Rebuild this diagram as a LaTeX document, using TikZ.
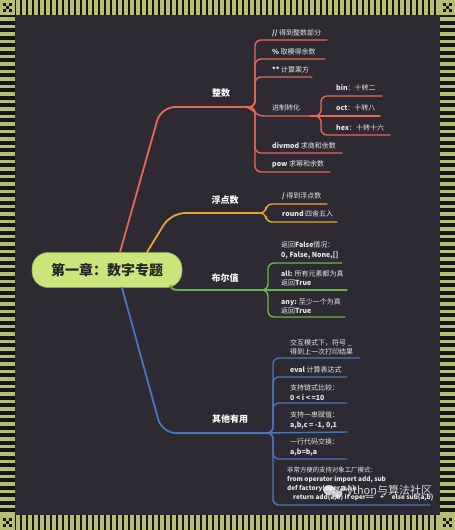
\documentclass[tikz,border=0pt]{standalone}
\usepackage{fontspec}
\setmainfont{Noto Sans CJK SC}
\definecolor{bg}{HTML}{2E2A34}
\definecolor{fr}{HTML}{B5BE72}
\definecolor{frk}{HTML}{151515}
\definecolor{cred}{HTML}{E8675A}
\definecolor{corange}{HTML}{E6A62C}
\definecolor{cgreen}{HTML}{6AB44A}
\definecolor{cblue}{HTML}{4A74BC}
\definecolor{cnode}{HTML}{C9E57C}
\definecolor{ctxt}{HTML}{E8E8E8}
\tikzset{
  trunk/.style={line width=1.8pt, line cap=round, rounded corners=14pt},
  twig/.style={line width=1.4pt, line cap=round, rounded corners=6pt},
  leaf/.style={anchor=west, inner sep=0pt, text=ctxt, font=\fontsize{7}{9.5}\selectfont, align=left},
  blabel/.style={inner sep=0pt, text=white, font=\fontsize{9}{11}\selectfont\bfseries},
  rootbox/.style={draw=cnode!70!black, line width=0.6pt, fill=cnode, rounded corners=16pt, minimum width=150pt, minimum height=35pt, inner sep=0pt, text=black!85, font=\fontsize{14}{16}\selectfont\bfseries}
}
\begin{document}
\begin{tikzpicture}[x=1pt,y=-1pt]
\useasboundingbox (0,0) rectangle (455,530);
% frame
\fill[frk] (0,0) rectangle (455,530);
\foreach \x in {15,21,...,435} {
  \fill[fr] (\x+1,0) rectangle (\x+4.8,15);
  \fill[fr] (\x+1,515) rectangle (\x+4.8,530);
}
\foreach \y in {15,22.5,...,510} {
  \fill[fr] (0,\y+2) rectangle (15,\y+5.5);
  \fill[fr] (440,\y+2) rectangle (455,\y+5.5);
}
\foreach \cx/\cy in {0/0,440/0,0/515,440/515} {
  \fill[fr] (\cx,\cy) rectangle (\cx+15,\cy+15);
  \fill[frk] (\cx+3,\cy+3) rectangle (\cx+6,\cy+6);
  \fill[frk] (\cx+9,\cy+3) rectangle (\cx+12,\cy+6);
  \fill[frk] (\cx+3,\cy+9) rectangle (\cx+6,\cy+12);
  \fill[frk] (\cx+9,\cy+9) rectangle (\cx+12,\cy+12);
  \fill[frk] (\cx+6,\cy+6) rectangle (\cx+9,\cy+9);
}
\fill[bg] (15,15) rectangle (440,515);

% fork coordinates
\coordinate (F1) at (243,107);
\coordinate (F1b) at (310,116);
\coordinate (F2) at (258,213);
\coordinate (F3) at (258,290);
\coordinate (F4) at (263,433);

% center node
\node[rootbox] (root) at (107,270) {第一章：数字专题};

% trunks
\draw[trunk, cred] ([xshift=13pt]root.north) -- (161,107) -- (F1);
\draw[trunk, corange] ([xshift=40pt]root.north) -- (171,213) -- (F2);
\draw[cgreen, line width=1.8pt] ([xshift=-12pt,yshift=3pt]root.south east) .. controls (172,290) .. (186,290) -- (F3);
\draw[trunk, cblue] ([xshift=15pt]root.south) -- (162,433) -- (F4);

% branch labels
\node[blabel] (zs) at (221,93) {整数};
\node[blabel] (fd) at (225,200) {浮点数};
\node[blabel] (be) at (225,278) {布尔值};
\node[blabel] (qt) at (230,419) {其他有用};

% ---- 整数 leaves
\node[leaf] (a1) at (272,33) {\textbf{//} 得到整数部分};
\node[leaf] (a2) at (272,52) {\textbf{\%} 取模得余数};
\node[leaf] (a3) at (272,70) {\textbf{**} 计算乘方};
\node[leaf] (a4) at (272,108) {进制转化};
\node[leaf] (a5) at (272,146) {\textbf{divmod} 求商和余数};
\node[leaf] (a6) at (272,164) {\textbf{pow} 求幂和余数};
\coordinate (e1) at (327,40);
\coordinate (e2) at (325,59);
\coordinate (e3) at (312,77);
\coordinate (e5) at (342,153);
\coordinate (e6) at (330,172);
\draw[twig, cred] (F1) -- (255,107) -- (255,40) -- (e1);
\draw[twig, cred] (F1) -- (255,107) -- (255,59) -- (e2);
\draw[twig, cred] (F1) -- (255,107) -- (255,77) -- (e3);
\draw[cred, line width=1.4pt, line cap=round] (F1) .. controls (254,107) and (254,116) .. (264,116) -- (F1b);
\draw[twig, cred] (F1) -- (255,107) -- (255,153) -- (e5);
\draw[twig, cred] (F1) -- (255,107) -- (255,172) -- (e6);

\node[leaf] (b1) at (336,88) {\textbf{bin}：十转二};
\node[leaf] (b2) at (336,108) {\textbf{oct}：十转八};
\node[leaf] (b3) at (336,128) {\textbf{hex}：十转十六};
\coordinate (g1) at (382,96);
\coordinate (g2) at (380,116);
\coordinate (g3) at (390,135);
\draw[twig, cred] (F1b) -- (321,116) -- (321,96) -- (g1);
\draw[twig, cred] (F1b) -- (g2);
\draw[twig, cred] (F1b) -- (321,116) -- (321,135) -- (g3);

% ---- 浮点数 leaves
\node[leaf] (c1) at (282,196) {\textbf{/} 得到浮点数};
\node[leaf] (c2) at (282,214) {\textbf{round} 四舍五入};
\coordinate (h1) at (327,204);
\coordinate (h2) at (337,222);
\draw[twig, corange] (F2) -- (266,213) -- (266,204) -- (h1);
\draw[twig, corange] (F2) -- (266,213) -- (266,222) -- (h2);

% ---- 布尔值 leaves
\node[leaf] (d1) at (281,250.5) {返回\textbf{False}情况：\\\textbf{0, False, None,[]}};
\node[leaf] (d2) at (281,278.5) {\textbf{all:} 所有元素都为真\\返回\textbf{True}};
\node[leaf] (d3) at (281,306.5) {\textbf{any:} 至少一个为真\\返回\textbf{True}};
\coordinate (k1) at (342,263);
\coordinate (k2) at (347,290);
\coordinate (k3) at (345,317);
\draw[twig, cgreen] (F3) -- (268,290) -- (268,263) -- (k1);
\draw[twig, cgreen] (F3) -- (k2);
\draw[twig, cgreen] (F3) -- (268,290) -- (268,317) -- (k3);

% ---- 其他有用 leaves
\node[leaf] (m1) at (290,347.5) {交互模式下，符号 \_\\得到上一次打印结果};
\node[leaf] (m2) at (290,370) {\textbf{eval} 计算表达式};
\node[leaf] (m3) at (290,392.5) {支持链式比较：\\\textbf{0 < i < =10}};
\node[leaf] (m4) at (290,420.5) {支持一串赋值：\\\textbf{a,b,c = -1, 0,1}};
\node[leaf] (m5) at (290,447.5) {一行代码交换：\\\textbf{a,b=b,a}};
\node[leaf, font=\fontsize{6.4}{9.3}\selectfont] (m6) at (287,484) {非常方便的支持对象工厂模式：\\\textbf{from operator import add, sub}\\\textbf{def factory(oper,a,b):}\\\hspace{6pt}\textbf{return add(a,b) if oper=='+' else sub(a,b)}};
\coordinate (n1) at (360,358);
\coordinate (n2) at (347,377);
\coordinate (n3) at (347,403);
\coordinate (n4) at (347,432);
\coordinate (n5) at (347,459);
\coordinate (n6) at (430,505);
\draw[twig, cblue] (F4) -- (273,433) -- (273,358) -- (n1);
\draw[twig, cblue] (F4) -- (273,433) -- (273,377) -- (n2);
\draw[twig, cblue] (F4) -- (273,433) -- (273,403) -- (n3);
\draw[twig, cblue] (F4) -- (n4);
\draw[twig, cblue] (F4) -- (273,433) -- (273,459) -- (n5);
\draw[twig, cblue] (F4) -- (273,433) -- (273,505) -- (n6);

% watermark
\fill[white, opacity=0.75] (329,490) ellipse (6pt and 5pt);
\fill[white, opacity=0.75] (337,494) ellipse (5pt and 4pt);
\node[inner sep=0pt, anchor=west, text=white, opacity=0.8, font=\fontsize{11}{13}\selectfont] (wm) at (340,491) {Python与算法社区};
\end{tikzpicture}
\end{document}
